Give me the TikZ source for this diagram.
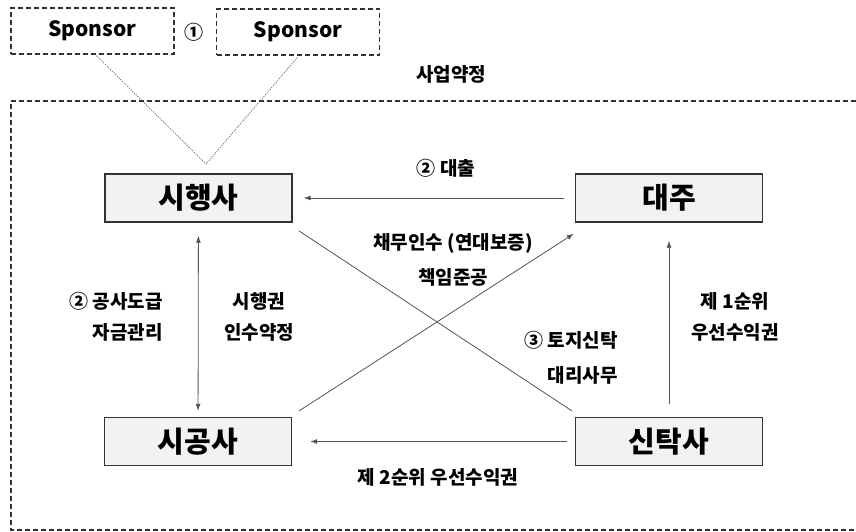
\documentclass[tikz,border=0pt]{standalone}
\usepackage{fontspec}
\setmainfont{Noto Sans CJK KR}
\usetikzlibrary{arrows.meta, calc}
\definecolor{boxF}{RGB}{242,242,242}
\definecolor{lineG}{RGB}{85,85,85}
\tikzset{
  party/.style={draw=black!80, line width=1.4pt, fill=boxF, minimum width=187pt,
    minimum height=48pt, inner sep=0pt, font=\fontsize{29}{30}\selectfont\bfseries},
  sponsorbox/.style={draw=black!80, dash pattern=on 5pt off 3pt, line width=1.4pt, minimum width=163pt,
    minimum height=46pt, inner sep=0pt, font=\fontsize{21}{22}\selectfont\bfseries},
  lbl/.style={font=\fontsize{19}{31}\selectfont\bfseries, inner sep=0pt},
  flow/.style={lineG, line width=0.8pt},
  arr/.style={-{Latex[length=7pt,width=5pt]}}
}

\begin{document}
\begin{tikzpicture}[x=1pt, y=-1pt]
\useasboundingbox (0,0) rectangle (856,531);
% ====== sponsors and business agreement ======
\node[sponsorbox] (sp1) at (92.5,31) {Sponsor};
\node[sponsorbox] (sp2) at (298,32) {Sponsor};
\node[lbl] (one) at (194,32) {①};
\node[lbl] (pact) at (451,74) {사업약정};
\coordinate (apex) at (206,164);
\draw[black!55, line width=0.8pt, dash pattern=on 1.2pt off 1.2pt] ($(sp1.south)+(4,1)$) -- (apex) -- ($(sp2.south)+(0,1)$);
% dashed frame (open on the right)
\draw[black!80, line width=1.2pt, dash pattern=on 5pt off 3pt] (856,101) -- (11,101) -- (11,530) -- (856,530);
% ====== parties ======
\node[party] (sihaeng) at (198.5,198) {시행사};
\node[party] (daeju) at (669,198) {대주};
\node[party] (sigong) at (198,441.5) {시공사};
\node[party] (sintak) at (669,441.5) {신탁사};
% ====== connectors ======
\draw[flow, arr, shorten <=11pt, shorten >=11pt] (daeju) -- (sihaeng);
\draw[flow, {Latex[length=7pt,width=5pt]}-{Latex[length=7pt,width=5pt]}, shorten <=13pt, shorten >=6pt] (sihaeng) -- (sigong);
\draw[flow, arr, shorten <=13pt, shorten >=18pt] (sintak) -- (daeju);
\draw[flow, arr, shorten <=8pt, shorten >=18pt] (sintak) -- (sigong);
\draw[flow] ($(sihaeng.south east)+(6,8)$) -- ($(sintak.north west)+(-3,-6)$);
\draw[flow, arr] ($(sigong.north east)+(7,-6)$) -- ($(daeju.south west)+(-1,11)$);
% ====== labels ======
\node[lbl] (loan) at (446,168) {② 대출};
\node[lbl, align=right, anchor=east] (build) at (163,317) {② 공사도급\\자금관리};
\node[lbl, align=center] (rights) at (259,317) {시행권\\인수약정};
\node[lbl, align=center] (debt) at (453,259.5) {채무인수 (연대보증)\\[4pt]책임준공};
\node[lbl, align=right, anchor=east] (trust) at (618,357.5) {③ 토지신탁\\[4pt]대리사무};
\node[lbl, align=center] (first) at (735,317) {제 1순위\\우선수익권};
\node[lbl] (second) at (438,477) {제 2순위 우선수익권};
\end{tikzpicture}
\end{document}
